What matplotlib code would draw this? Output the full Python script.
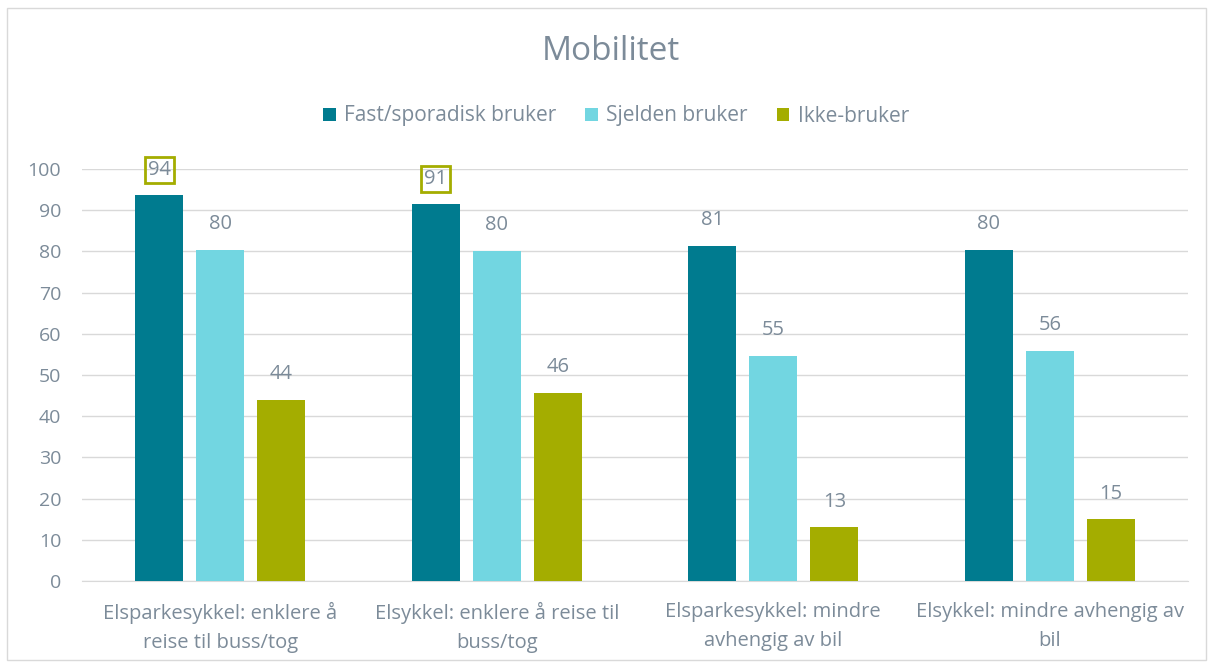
import matplotlib
matplotlib.use("Agg")
import matplotlib.pyplot as plt
import numpy as np
from matplotlib.patches import Rectangle

categories = ["Elsparkesykkel: enklere å\nreise til buss/tog",
              "Elsykkel: enklere å reise til\nbuss/tog",
              "Elsparkesykkel: mindre\navhengig av bil",
              "Elsykkel: mindre avhengig av\nbil"]
series_names = ["Fast/sporadisk bruker", "Sjelden bruker", "Ikke-bruker"]
fast = [93.6, 91.4, 81.4, 80.4]
sjelden = [80.4, 80.2, 54.6, 55.8]
ikke = [44.0, 45.6, 13.0, 15.0]
labels_fast = ["94", "91", "81", "80"]
labels_sjelden = ["80", "80", "55", "56"]
labels_ikke = ["44", "46", "13", "15"]
yticks = [0, 10, 20, 30, 40, 50, 60, 70, 80, 90, 100]

colors = ["#007B8F", "#72D6E1", "#A4AD00"]
txt = "#7C8B99"
font = "Open Sans"

W, H = 1213, 663
fig = plt.figure(figsize=(W / 100, H / 100), dpi=100)
plt.rcParams['font.family'] = [font, 'DejaVu Sans']

# outer border
fig.patches.append(Rectangle((7 / W, 1 - 660 / H), (1206 - 7) / W, (660 - 8) / H,
                             transform=fig.transFigure, fill=False,
                             edgecolor="#D9D9D9", linewidth=1))

ax = fig.add_axes([82 / W, 1 - 581 / H, (1188 - 82) / W, (581 - 169) / H])
x = np.arange(len(categories))
bw = 0.174
step = 0.221
all_series = [fast, sjelden, ikke]
all_labels = [labels_fast, labels_sjelden, labels_ikke]
for i, (vals, labs) in enumerate(zip(all_series, all_labels)):
    pos = x + (i - 1) * step
    ax.bar(pos, vals, width=bw, color=colors[i], label=series_names[i], zorder=3)
    for j, (p, v, l) in enumerate(zip(pos, vals, labs)):
        boxed = (i == 0 and j in (0, 1))
        kw = {}
        if boxed:
            kw["bbox"] = dict(boxstyle="square,pad=0.15", facecolor="none",
                              edgecolor=colors[2], linewidth=2)
        ax.annotate(l, (p, v), xytext=(0, 18.5), textcoords="offset points",
                    ha="center", va="center", fontsize=14.5, color=txt,
                    annotation_clip=False, **kw)

ax.set_xlim(-0.5, len(categories) - 0.5)
ax.set_ylim(0, 100)
ax.set_yticks(yticks)
ax.set_xticks(x)
ax.set_xticklabels(categories, fontsize=14.5, color=txt, linespacing=1.62)
ax.tick_params(axis="y", length=0, labelsize=14, labelcolor=txt, pad=15)
ax.tick_params(axis="x", length=0, pad=15)
ax.grid(axis="y", color="#D9D9D9", linewidth=1, zorder=0)
for s in ["top", "right", "left"]:
    ax.spines[s].set_visible(False)
ax.spines["bottom"].set_color("#D9D9D9")

fig.text(611 / W, 1 - 52 / H, "Mobilitet", ha="center", va="center",
         fontsize=24, color=txt)
leg = fig.legend(loc="center", bbox_to_anchor=(616 / W, 1 - 116 / H), ncol=3,
                 frameon=False, fontsize=15, handlelength=0.6, handleheight=0.6,
                 handletextpad=0.4, columnspacing=1.4)
for t in leg.get_texts():
    t.set_color(txt)

fig.savefig("out.png", dpi=100)
